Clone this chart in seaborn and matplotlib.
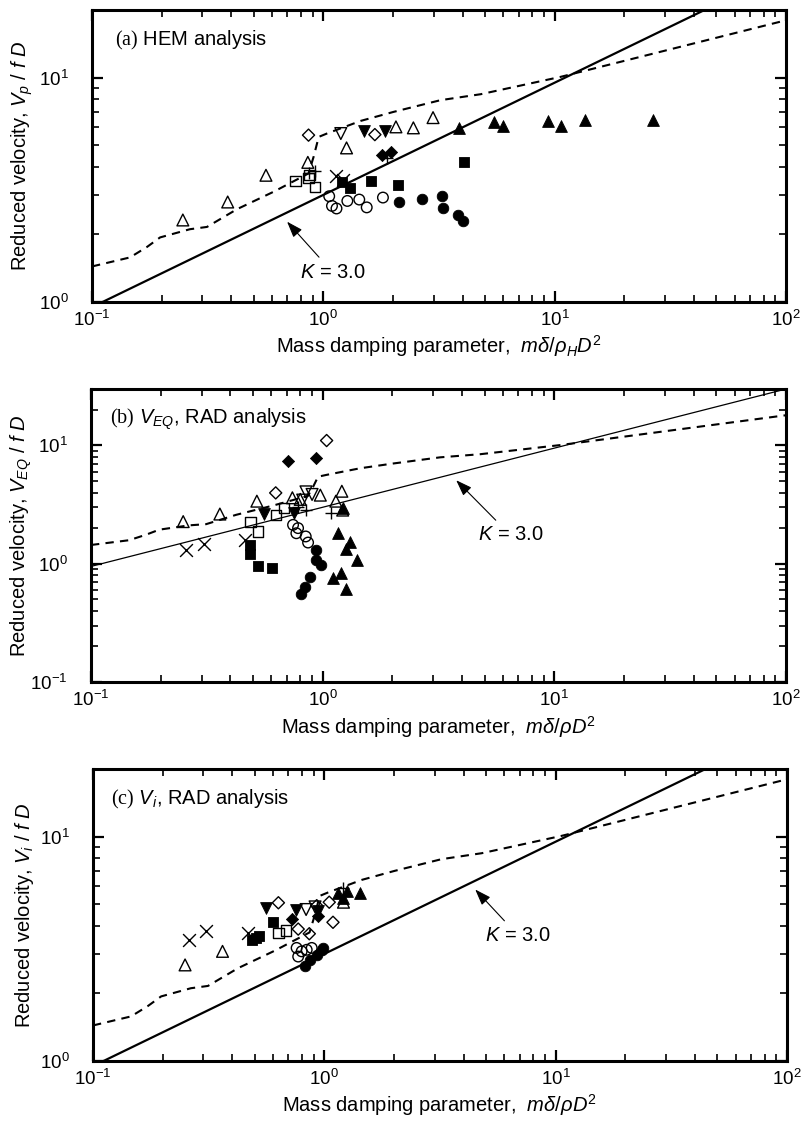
import numpy as np
import pandas as pd
import matplotlib
matplotlib.use("Agg")
import matplotlib.pyplot as plt
from matplotlib.ticker import LogLocator, NullFormatter
import seaborn as sns

# ------------------------------------------------------------------ data
# reference (dashed) curve, same in every panel
dash_x = [0.100, 0.146, 0.173, 0.197, 0.265, 0.314, 0.423, 0.610, 0.863, 0.908,
          0.955, 1.04, 1.45, 2.01, 3.21, 4.79, 10.6, 100.0]
dash_y = [1.44, 1.58, 1.76, 1.94, 2.11, 2.16, 2.59, 3.10, 3.74, 4.44,
          5.44, 5.64, 6.41, 7.03, 7.93, 8.43, 10.07, 18.0]

# Connors line, K = 3.0 (end points)
k_x = [0.1, 100.0]
k_y = [0.949, 30.0]

# panel (a) HEM analysis
a_kind = (["tri_up_o"] * 8 + ["tri_dn_o"] + ["tri_dn_f"] * 2 + ["dia_o"] * 2 + ["dia_f"] * 2
          + ["sq_o"] * 4 + ["sq_f"] * 5 + ["circ_o"] * 7 + ["circ_f"] * 6 + ["tri_up_f"] * 7
          + ["cross"] * 2 + ["plus"] * 3)
a_x = [0.247, 0.386, 0.565, 0.857, 1.26, 2.06, 2.45, 2.98,
       1.19,
       1.50, 1.85,
       0.863, 1.67,
       1.79, 1.96,
       0.758, 0.863, 0.922, 0.871,
       1.20, 1.31, 1.61, 2.11, 4.05,
       1.06, 1.09, 1.14, 1.27, 1.43, 1.54, 1.81,
       2.13, 2.67, 3.26, 3.29, 3.81, 4.02,
       3.86, 5.46, 6.0, 9.4, 10.7, 13.5, 26.7,
       1.13, 1.22,
       0.87, 0.92, 1.88]
a_y = [2.32, 2.79, 3.67, 4.19, 4.86, 6.03, 5.97, 6.63,
       5.63,
       5.79, 5.79,
       5.54, 5.57,
       4.51, 4.67,
       3.46, 3.57, 3.26, 3.67,
       3.43, 3.21, 3.47, 3.32, 4.21,
       2.96, 2.68, 2.61, 2.82, 2.86, 2.64, 2.92,
       2.79, 2.89, 2.97, 2.61, 2.44, 2.30,
       5.97, 6.35, 6.09, 6.41, 6.07, 6.46, 6.50,
       3.64, 3.50,
       3.75, 3.82, 4.36]

# panel (b) V_EQ, RAD analysis
b_kind = (["tri_up_o"] * 9 + ["tri_dn_o"] * 3 + ["tri_dn_f"] * 2 + ["dia_o"] * 2 + ["dia_f"] * 2
          + ["sq_o"] * 4 + ["sq_f"] * 4 + ["circ_o"] * 5 + ["circ_f"] * 6 + ["tri_up_f"] * 8
          + ["cross"] * 3 + ["plus"] * 3)
b_x = [0.250, 0.36, 0.52, 0.74, 0.977, 1.21, 1.14, 1.22, 0.80,
       0.847, 0.82, 0.90,
       0.557, 0.752,
       1.04, 0.627,
       0.708, 0.933,
       0.488, 0.526, 0.631, 0.679,
       0.488, 0.488, 0.526, 0.604,
       0.745, 0.783, 0.77, 0.845, 0.865,
       0.94, 0.94, 0.98, 0.885, 0.836, 0.81,
       1.16, 1.31, 1.26, 1.41, 1.20, 1.11, 1.26, 1.22,
       0.258, 0.307, 0.461,
       0.85, 1.09, 0.78]
b_y = [2.27, 2.63, 3.38, 3.61, 3.80, 4.10, 3.38, 2.84, 3.50,
       4.05, 3.45, 3.85,
       2.63, 2.67,
       11.0, 3.97,
       7.34, 7.82,
       2.24, 1.87, 2.58, 2.94,
       1.45, 1.20, 0.95, 0.92,
       2.13, 2.00, 1.81, 1.70, 1.51,
       1.31, 1.08, 0.97, 0.773, 0.637, 0.55,
       1.83, 1.54, 1.33, 1.08, 0.835, 0.758, 0.612, 2.94,
       1.31, 1.46, 1.59,
       2.84, 2.67, 3.00]

# panel (c) V_i, RAD analysis
c_kind = (["tri_up_o"] * 3 + ["cross"] * 3 + ["sq_f"] * 4 + ["sq_o"] * 2 + ["tri_dn_f"] * 3
          + ["dia_o"] * 6 + ["tri_dn_o"] * 2 + ["dia_f"] * 2 + ["circ_o"] * 5 + ["circ_f"] * 5
          + ["tri_up_f"] * 4 + ["plus"])
c_x = [0.25, 0.363, 1.21,
       0.26, 0.307, 0.469,
       0.509, 0.485, 0.601, 0.52,
       0.633, 0.683,
       0.56, 0.755, 0.942,
       0.633, 0.771, 0.861, 0.927, 1.05, 1.09,
       0.834, 0.912,
       0.723, 0.942,
       0.759, 0.798, 0.839, 0.882, 0.771,
       0.824, 0.867, 0.927, 0.975, 0.99,
       1.15, 1.25, 1.43, 1.21,
       1.20]
c_y = [2.68, 3.08, 5.10,
       3.45, 3.81, 3.72,
       3.53, 3.47, 4.15, 3.60,
       3.72, 3.81,
       4.81, 4.73, 4.65,
       5.07, 3.87, 3.69, 4.92, 5.10, 4.15,
       4.73, 4.86,
       4.29, 4.41,
       3.19, 3.08, 3.13, 3.19, 2.92,
       2.64, 2.82, 2.97, 3.13, 3.19,
       5.61, 5.71, 5.61, 5.33,
       5.90]

# ------------------------------------------------------------------ style
sns.set_style("ticks")
plt.rcParams.update({
    "font.family": ["Liberation Sans", "DejaVu Sans"],
    "mathtext.fontset": "custom",
    "mathtext.rm": "Liberation Serif",
    "mathtext.it": "Liberation Sans:italic",
    "mathtext.sf": "Liberation Sans",
    "mathtext.bf": "Liberation Sans:bold",
    "axes.linewidth": 2.2,
    "axes.edgecolor": "black",
    "text.color": "black",
    "axes.labelcolor": "black",
    "xtick.color": "black",
    "ytick.color": "black",
})

MARKERS = {
    "tri_up_o": ("^", False, 72),
    "tri_up_f": ("^", True, 72),
    "tri_dn_o": ("v", False, 72),
    "tri_dn_f": ("v", True, 72),
    "dia_o": ("D", False, 38),
    "dia_f": ("D", True, 38),
    "sq_o": ("s", False, 55),
    "sq_f": ("s", True, 55),
    "circ_o": ("o", False, 58),
    "circ_f": ("o", True, 58),
    "cross": ("x", None, 85),
    "plus": ("+", None, 85),
}

fig = plt.figure(figsize=(8.03, 11.24), dpi=100)
W, H = 803.0, 1124.0


def make_axes(left, right, top, bottom):
    return fig.add_axes([left / W, 1 - bottom / H, (right - left) / W, (bottom - top) / H])


def style_axes(ax, ylim):
    ax.set_xscale("log")
    ax.set_yscale("log")
    ax.set_xlim(0.1, 100)
    ax.set_ylim(*ylim)
    for axis in (ax.xaxis, ax.yaxis):
        axis.set_major_locator(LogLocator(base=10, numticks=10))
        axis.set_minor_locator(LogLocator(base=10, subs=np.arange(2, 10), numticks=30))
        axis.set_minor_formatter(NullFormatter())
    ax.tick_params(which="both", direction="in", top=True, right=True)
    ax.tick_params(which="major", length=8, width=1.6, labelsize=13.5)
    ax.tick_params(which="minor", length=5, width=1.2)
    ax.tick_params(axis="x", which="major", pad=6)
    ax.tick_params(axis="y", which="major", pad=17)
    for sp in ax.spines.values():
        sp.set_linewidth(2.2)
        sp.set_visible(True)


def draw_points(ax, xs, ys, kinds):
    df = pd.DataFrame({"x": xs, "y": ys, "kind": kinds})
    for k, sub in df.groupby("kind", sort=False):
        m, filled, s = MARKERS[k]
        if filled is None:
            sns.scatterplot(data=sub, x="x", y="y", ax=ax, marker=m, s=s, color="black",
                            linewidth=1.0, legend=False, zorder=4)
        elif filled:
            sns.scatterplot(data=sub, x="x", y="y", ax=ax, marker=m, s=s, color="black",
                            edgecolor="black", linewidth=0.6, legend=False, zorder=4)
        else:
            sns.scatterplot(data=sub, x="x", y="y", ax=ax, marker=m, s=s, facecolor="none",
                            edgecolor="black", linewidth=1.0, legend=False, zorder=4)


def draw_lines(ax, k_lw):
    sns.lineplot(x=dash_x, y=dash_y, ax=ax, color="black", linewidth=1.5,
                 linestyle=(0, (4, 3)), estimator=None, sort=False, zorder=2)
    sns.lineplot(x=k_x, y=k_y, ax=ax, color="black", linewidth=k_lw,
                 estimator=None, sort=False, zorder=2)


ARROW = dict(arrowstyle="-|>,head_length=0.7,head_width=0.25", color="black", lw=0.8,
             shrinkA=2, shrinkB=0, mutation_scale=14)

LABEL_FS = 14.5
TITLE_FS = 14.5

# ---------------- panel (a)
ax1 = make_axes(92, 786, 10, 302)
style_axes(ax1, (1, 20))
draw_lines(ax1, 1.6)
draw_points(ax1, a_x, a_y, a_kind)
ax1.text(0.033, 0.880, r"$\mathrm{(a)}$ HEM analysis", transform=ax1.transAxes,
         fontsize=TITLE_FS, va="baseline")
ax1.annotate("$K$ = 3.0", xy=(0.697, 2.28), xytext=(1.094, 1.36), ha="center", va="center",
             fontsize=TITLE_FS, arrowprops=ARROW)
ax1.set_xlabel(r"Mass damping parameter,  $m\delta$/$\rho_H D^{\mathsf{2}}$", fontsize=LABEL_FS)
ax1.set_ylabel(r"Reduced velocity, $V_p$ / $f$ $D$", fontsize=LABEL_FS)

# ---------------- panel (b)
ax2 = make_axes(91, 786, 389, 682)
style_axes(ax2, (0.1, 30))
draw_lines(ax2, 0.9)
draw_points(ax2, b_x, b_y, b_kind)
ax2.text(0.027, 0.882, r"$\mathrm{(b)}$ $V_{EQ}$, RAD analysis", transform=ax2.transAxes,
         fontsize=TITLE_FS, va="baseline")
ax2.annotate("$K$ = 3.0", xy=(3.77, 5.08), xytext=(6.46, 1.75), ha="center", va="center",
             fontsize=TITLE_FS, arrowprops=ARROW)
ax2.set_xlabel(r"Mass damping parameter,  $m\delta$/$\rho D^{\mathsf{2}}$", fontsize=LABEL_FS)
ax2.set_ylabel(r"Reduced velocity, $V_{EQ}$ / $f$ $D$", fontsize=LABEL_FS)

# ---------------- panel (c)
ax3 = make_axes(93, 787, 769, 1061)
style_axes(ax3, (1, 20))
draw_lines(ax3, 1.6)
draw_points(ax3, c_x, c_y, c_kind)
ax3.text(0.0265, 0.880, r"$\mathrm{(c)}$ $V_i$, RAD analysis", transform=ax3.transAxes,
         fontsize=TITLE_FS, va="baseline")
ax3.annotate("$K$ = 3.0", xy=(4.49, 5.81), xytext=(6.89, 3.62), ha="center", va="center",
             fontsize=TITLE_FS, arrowprops=ARROW)
ax3.set_xlabel(r"Mass damping parameter,  $m\delta$/$\rho D^{\mathsf{2}}$", fontsize=LABEL_FS)
ax3.set_ylabel(r"Reduced velocity, $V_i$ / $f$ $D$", fontsize=LABEL_FS)

for ax in (ax1, ax2, ax3):
    ax.xaxis.set_label_coords(0.5, -0.108)
    ax.yaxis.set_label_coords(-0.082, 0.5)

fig.savefig("out.png", dpi=100, facecolor="white")
